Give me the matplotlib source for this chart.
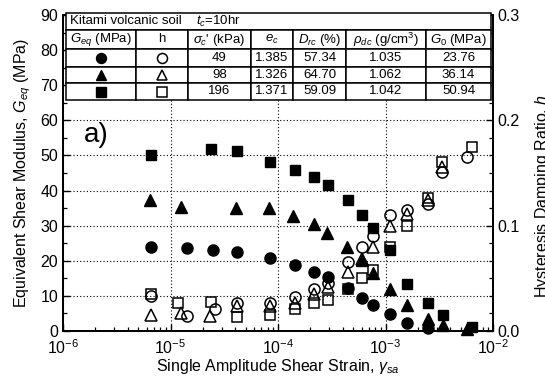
import matplotlib
matplotlib.use("Agg")
import matplotlib.pyplot as plt
from matplotlib.patches import Rectangle
from matplotlib.ticker import MultipleLocator, LogLocator, NullFormatter

plt.rcParams["font.family"] = ["Liberation Sans", "DejaVu Sans"]
plt.rcParams["mathtext.fontset"] = "custom"
plt.rcParams["mathtext.rm"] = "Liberation Sans"
plt.rcParams["mathtext.it"] = "Liberation Sans:italic"
plt.rcParams["mathtext.bf"] = "Liberation Sans:bold"

# ---- equivalent shear modulus G_eq (MPa) ----
x_g49 = [6.6e-6, 1.41e-5, 2.49e-5, 4.2e-5, 8.4e-5, 1.44e-4, 2.16e-4, 2.94e-4,
         4.48e-4, 6.04e-4, 7.69e-4, 1.10e-3, 1.58e-3, 2.51e-3]
g_49 = [23.9, 23.7, 23.0, 22.5, 20.9, 18.8, 16.8, 15.3, 12.3, 9.3, 7.4, 4.8, 2.4, 0.8]

x_g98 = [6.44e-6, 1.25e-5, 4.1e-5, 8.3e-5, 1.39e-4, 2.14e-4, 2.84e-4, 4.4e-4,
         6.0e-4, 7.7e-4, 1.10e-3, 1.6e-3, 2.5e-3, 3.4e-3, 5.7e-3]
g_98 = [37.2, 35.3, 34.9, 35.1, 32.8, 30.4, 28.0, 23.8, 20.2, 16.6, 12.1, 7.5,
        3.4, 1.8, 0.5]

x_g196 = [6.55e-6, 2.37e-5, 4.13e-5, 8.4e-5, 1.44e-4, 2.14e-4, 2.92e-4, 4.48e-4,
          6.04e-4, 7.69e-4, 1.10e-3, 1.6e-3, 2.51e-3, 3.4e-3, 6.4e-3]
g_196 = [50.0, 51.9, 51.4, 48.1, 45.9, 44.0, 41.7, 37.4, 33.1, 29.2, 23.0, 13.5,
         7.9, 4.6, 1.1]

# ---- hysteresis damping ratio h ----
x_h49 = [6.6e-6, 1.41e-5, 2.59e-5, 4.13e-5, 8.43e-5, 1.44e-4, 2.14e-4, 2.92e-4,
         4.48e-4, 6.04e-4, 7.69e-4, 1.10e-3, 1.6e-3, 2.51e-3, 3.36e-3, 5.73e-3]
h_49 = [0.033, 0.0143, 0.0213, 0.0267, 0.0263, 0.0325, 0.0403, 0.046, 0.0653,
        0.0797, 0.090, 0.110, 0.115, 0.121, 0.151, 0.165]

x_h98 = [6.54e-6, 1.25e-5, 2.33e-5, 4.13e-5, 8.43e-5, 1.44e-4, 2.14e-4, 2.92e-4,
         4.48e-4, 6.04e-4, 7.69e-4, 1.10e-3, 1.6e-3, 2.51e-3, 3.36e-3]
h_98 = [0.015, 0.0167, 0.0143, 0.024, 0.0233, 0.0267, 0.035, 0.0417, 0.056,
        0.0687, 0.0797, 0.100, 0.111, 0.124, 0.156]

x_h196 = [6.54e-6, 1.18e-5, 2.36e-5, 4.13e-5, 8.43e-5, 1.44e-4, 2.14e-4, 2.92e-4,
          4.48e-4, 6.04e-4, 7.69e-4, 1.10e-3, 1.6e-3, 2.51e-3, 3.36e-3, 6.38e-3]
h_196 = [0.0347, 0.0267, 0.0277, 0.0137, 0.015, 0.0207, 0.0263, 0.0293, 0.0403,
         0.050, 0.0577, 0.080, 0.0993, 0.126, 0.160, 0.175]

# ---- test conditions table ----
table_title = "Kitami volcanic soil"
table_time = "$t_c$=10hr"
col_headers = ["$G_{eq}$ (MPa)", "h", "$\\sigma_c$' (kPa)", "$e_c$",
               "$D_{rc}$ (%)", "$\\rho_{dc}$ (g/cm$^3$)", "$G_0$ (MPa)"]
sigma_c = ["49", "98", "196"]
e_c = ["1.385", "1.326", "1.371"]
D_rc = ["57.34", "64.70", "59.09"]
rho_dc = ["1.035", "1.062", "1.042"]
G_0 = ["23.76", "36.14", "50.94"]

W, H = 545, 389
fig = plt.figure(figsize=(W / 100, H / 100), dpi=100)
ax = fig.add_axes([63 / W, 1 - 331 / H, 430 / W, 316 / H])
ax2 = ax.twinx()

ax.set_xscale("log")
ax.set_xlim(1e-6, 1e-2)
ax.set_ylim(0, 90)
ax2.set_ylim(0, 0.3)

ms = dict(linestyle="none", color="black", clip_on=False)
ax.plot(x_g49, g_49, marker="o", markersize=8, **ms, zorder=3)
ax.plot(x_g98, g_98, marker="^", markersize=8.5, **ms, zorder=3)
ax.plot(x_g196, g_196, marker="s", markersize=7.5, **ms, zorder=3)

op = dict(linestyle="none", color="black", markerfacecolor="none",
          markeredgewidth=1.1, clip_on=False)
ax2.plot(x_h49, h_49, marker="o", markersize=8, **op, zorder=3)
ax2.plot(x_h98, h_98, marker="^", markersize=8.5, **op, zorder=3)
ax2.plot(x_h196, h_196, marker="s", markersize=7.5, **op, zorder=3)

# grid, ticks
ax.yaxis.set_major_locator(MultipleLocator(10))
ax.yaxis.set_minor_locator(MultipleLocator(5))
ax.xaxis.set_major_locator(LogLocator(base=10, numticks=10))
ax.xaxis.set_minor_locator(LogLocator(base=10, subs=range(2, 10), numticks=10))
ax.xaxis.set_minor_formatter(NullFormatter())
ax2.yaxis.set_major_locator(MultipleLocator(0.1))
ax2.yaxis.set_minor_locator(MultipleLocator(0.1 / 6))
ax2.yaxis.set_major_formatter(plt.FuncFormatter(lambda v, p: f"{v:.1f}"))
ax.grid(True, which="major", linestyle=(0, (1, 2)), color="black", linewidth=0.8)

for a in (ax, ax2):
    a.tick_params(which="major", direction="in", length=5, width=1.0, labelsize=11.5)
    a.tick_params(which="minor", direction="in", length=3, width=0.9)
    for s in a.spines.values():
        s.set_linewidth(1.3)
ax.tick_params(axis="x", pad=5)
ax.tick_params(axis="y", left=True, right=False)

ax.set_xlabel("Single Amplitude Shear Strain, $\\gamma_{sa}$", fontsize=11.5, labelpad=0)
ax.set_ylabel("Equivalent Shear Modulus, $G_{eq}$ (MPa)", fontsize=11.5, labelpad=5)

# right-hand axis title, sitting at the figure's right edge
fig.text(533 / W, 1 - 298 / H, "Hysteresis Damping Ratio, $h$", fontsize=11.5,
         rotation=90, ha="left", va="bottom")

ax2.text(0.077, 0.62, "a)", transform=ax2.transAxes, fontsize=20,
         ha="center", va="center", zorder=12)

# ---- table drawn in axes coordinates ----
def px_x(px):
    return (px - 63) / 430

def px_y(py):
    return (331 - py) / 316

col_px = [65.5, 136, 188, 251, 293, 346, 426, 491]
row_px = [13, 30, 49, 67, 83, 100]
tf = ax2.transAxes
tkw = dict(transform=tf, ha="center", va="center", fontsize=9.5, zorder=12, clip_on=False)

def cell(x0, x1, y0, y1):
    ax2.add_patch(Rectangle((px_x(x0), px_y(y1)), px_x(x1) - px_x(x0), px_y(y0) - px_y(y1),
                            transform=tf, facecolor="white", edgecolor="black",
                            linewidth=1.1, zorder=11, clip_on=False))

cell(col_px[0], col_px[-1], row_px[0], row_px[1])
ax2.text(px_x(70), px_y((row_px[0] + row_px[1]) / 2), table_title,
         **{**tkw, "ha": "left"})
ax2.text(px_x(196), px_y((row_px[0] + row_px[1]) / 2), table_time,
         **{**tkw, "ha": "left"})

for j in range(len(col_px) - 1):
    xc = px_x((col_px[j] + col_px[j + 1]) / 2)
    cell(col_px[j], col_px[j + 1], row_px[1], row_px[2])
    ax2.text(xc, px_y((row_px[1] + row_px[2]) / 2), col_headers[j], **tkw)

markers = ["o", "^", "s"]
msizes = [8, 8.5, 7.5]
for i in range(3):
    y0, y1 = row_px[2 + i], row_px[3 + i]
    yc = px_y((y0 + y1) / 2)
    values = [None, None, sigma_c[i], e_c[i], D_rc[i], rho_dc[i], G_0[i]]
    for j in range(len(col_px) - 1):
        cell(col_px[j], col_px[j + 1], y0, y1)
        xc = px_x((col_px[j] + col_px[j + 1]) / 2)
        if j == 0:
            ax2.plot([xc], [yc], marker=markers[i], markersize=msizes[i] * 0.9,
                     color="black", transform=tf, zorder=13, clip_on=False)
        elif j == 1:
            ax2.plot([xc], [yc], marker=markers[i], markersize=msizes[i] * 0.9,
                     color="black", markerfacecolor="none", markeredgewidth=1.1,
                     transform=tf, zorder=13, clip_on=False)
        else:
            ax2.text(xc, yc, values[j], **tkw)

fig.savefig("out.png", dpi=100)
